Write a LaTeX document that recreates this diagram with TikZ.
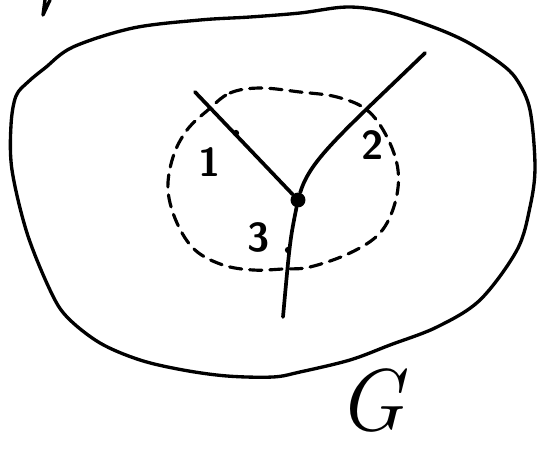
\documentclass[tikz,border=0pt]{standalone}
\usepackage{fontspec}

\begin{document}
\begin{tikzpicture}[
  x=0.02cm,
  y=-0.02cm,
  line cap=round,
  line join=round,
  outline/.style={draw=black, line width=1.9pt},
  edge/.style={draw=black, line width=2.1pt},
  cutloop/.style={
    draw=black,
    line width=1.8pt,
    dash pattern=on 7pt off 4.5pt
  },
  vertex/.style={circle, fill=black, minimum size=8.5pt, inner sep=0pt},
  tick/.style={circle, fill=black, minimum size=3.6pt, inner sep=0pt},
  portlabel/.style={font=\sffamily\bfseries\fontsize{23}{23}\selectfont, text=black},
  graphlabel/.style={font=\itshape\fontsize{50}{50}\selectfont, text=black, inner sep=0pt}
]
\useasboundingbox (0,0) rectangle (542,450);

% stroke cut off at the top edge
\draw[outline] (45,0) -- (43,15) -- (50,0);

% the graph G
\draw[outline] plot[smooth cycle, tension=0.55] coordinates {
  (16,96) (28,82) (45,68) (73,47) (133,28) (200,20) (250,17) (300,13) (347,7)
  (387,12) (433,27) (467,42) (500,63) (517,80) (530,110) (535,167)
  (530,207) (517,250) (480,300) (437,327) (390,345) (350,360) (300,372)
  (273,377) (227,376) (183,370) (140,360) (100,343) (67,317) (50,290)
  (27,233) (12,170) (11,125)};

% dashed neighbourhood of the vertex
\draw[cutloop] plot[smooth cycle, tension=0.6] coordinates {
  (208,110) (230,93) (260,88) (300,92) (337,97) (367,110) (387,137)
  (398,170) (395,203) (380,233) (350,253) (310,267) (283,269) (253,270)
  (223,265) (195,250) (177,223) (168,190) (173,157) (187,130)};

% vertex and its three edges
\node[vertex] (v) at (298,200) {};
\coordinate (e1) at (195,92);
\coordinate (e2) at (425,53);
\coordinate (e3) at (283,317);

\draw[edge] (v) -- (e1);
\draw[edge] (v) .. controls (310,160) and (340,135) .. (e2);
\draw[edge] (v) .. controls (290,240) .. (e3);

\node[tick] (t1) at (236,133) {};
\node[tick] (t3) at (288,250) {};

\node[portlabel] (l1) at (210,162) {1};
\node[portlabel] (l2) at (373,145) {2};
\node[portlabel] (l3) at (259,237) {3};
\node[graphlabel] (g) at (371,400) {G};

\end{tikzpicture}
\end{document}
